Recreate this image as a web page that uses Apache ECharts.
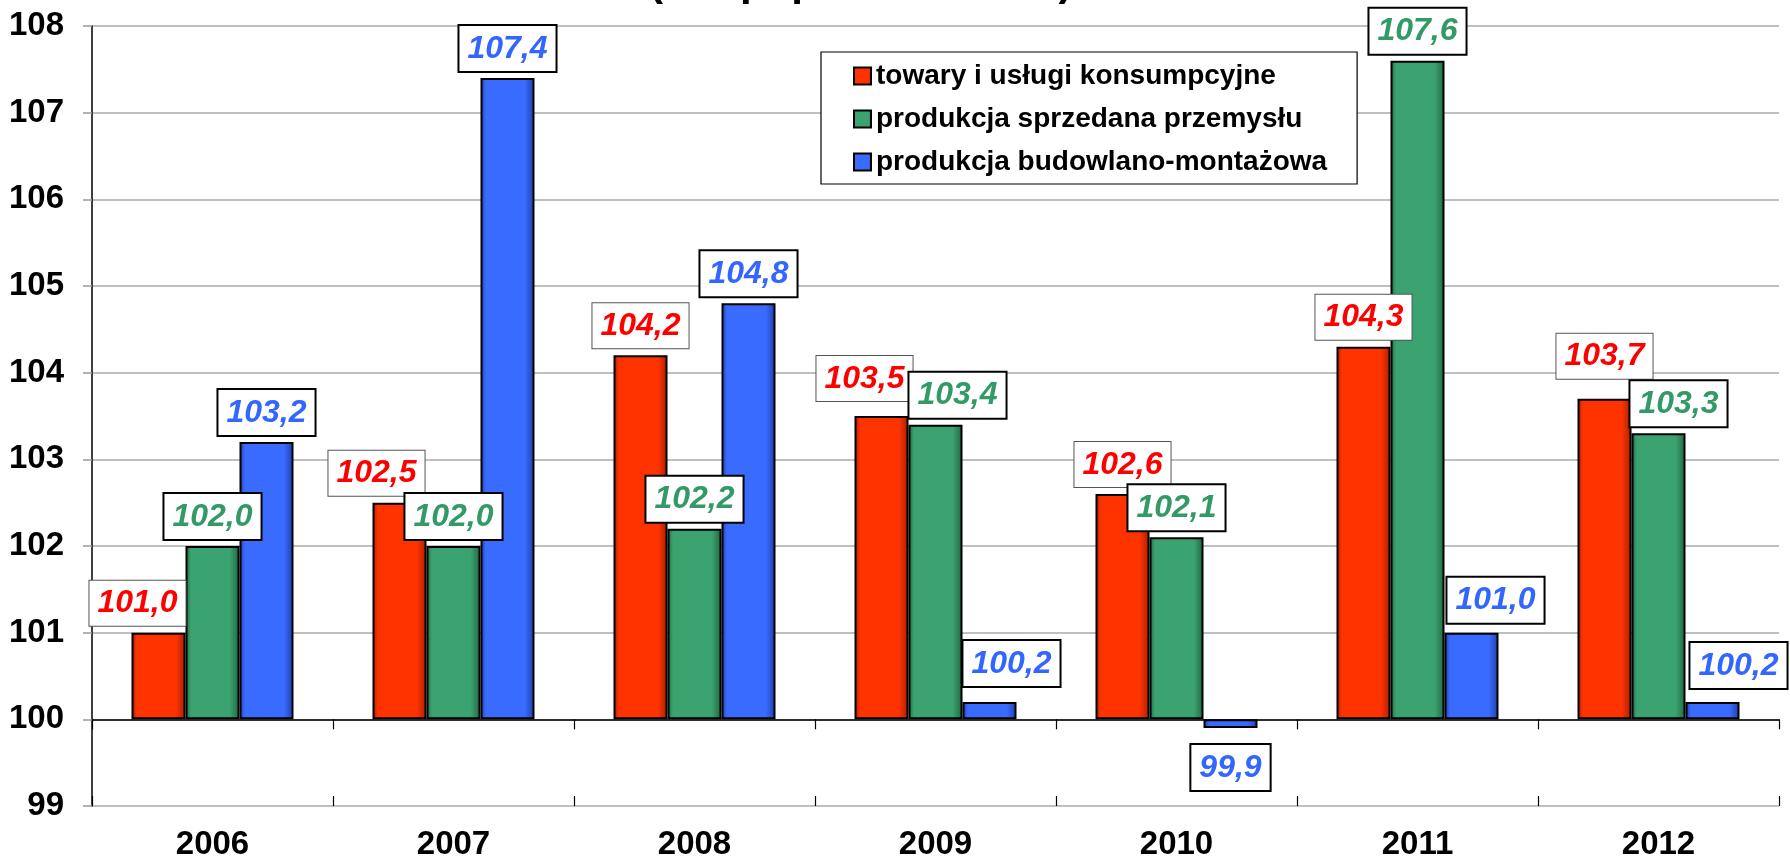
<!DOCTYPE html>
<html>
<head>
<meta charset="utf-8">
<script src="https://cdn.jsdelivr.net/npm/echarts@6/dist/echarts.min.js"></script>
<style>
  html, body { margin: 0; padding: 0; background: #fff; }
  #chart { width: 1790px; height: 861px; }
</style>
</head>
<body>
<div id="chart"></div>
<script>
  const years = ['2006', '2007', '2008', '2009', '2010', '2011', '2012'];
  const seriesNames = [
    'towary i usługi konsumpcyjne',
    'produkcja sprzedana przemysłu',
    'produkcja budowlano-montażowa'
  ];
  const consumer = [101.0, 102.5, 104.2, 103.5, 102.6, 104.3, 103.7];
  const industry = [102.0, 102.0, 102.2, 103.4, 102.1, 107.6, 103.3];
  const construction = [103.2, 107.4, 104.8, 100.2, 99.9, 101.0, 100.2];
  const baseLevel = 100;
  const yMin = 99;
  const yMax = 108;

  // hand placed label boxes in the original, [dx, dy]
  const labelNudge = [
    [[-21, 0], [-23, 0], [0, 0], [-17, -8], [0, 0], [0, 0], [0, -13]],
    [[0, 0], [0, 0], [0, 0], [22, 0], [0, 0], [0, 0], [20, 0]],
    [[0, 0], [0, 0], [0, 0], [22, -9], [0, 10], [24, -3], [26, -7]]
  ];

  const FONT = '"Liberation Sans", Arial, sans-serif';
  const NARROW = '"Liberation Sans Narrow", "Arial Narrow", "Liberation Sans", sans-serif';
  const barColors = [
    { base: '#ff3300', dark: '#a82000' },
    { base: '#3aa36f', dark: '#1f6640' },
    { base: '#3a6bff', dark: '#1e3fa8' }
  ];
  const textColors = ['#ff0000', '#339966', '#3366ff'];

  const fmt = v => v.toFixed(1).replace('.', ',');

  function bevel(c) {
    return new echarts.graphic.LinearGradient(0, 0, 1, 0, [
      { offset: 0, color: c.dark },
      { offset: 0.1, color: c.base },
      { offset: 0.82, color: c.base },
      { offset: 1, color: c.dark }
    ]);
  }

  function makeSeries(idx, values) {
    return {
      name: seriesNames[idx],
      type: 'bar',
      barWidth: 54,
      barGap: '0%',
      itemStyle: {
        color: bevel(barColors[idx]),
        borderColor: '#000',
        borderWidth: 2
      },
      label: {
        show: true,
        position: 'top',
        distance: 7,
        formatter: p => fmt(values[p.dataIndex]),
        fontFamily: FONT,
        fontSize: 32,
        fontWeight: 'bold',
        fontStyle: 'italic',
        color: textColors[idx],
        lineHeight: 32,
        backgroundColor: '#fff',
        borderColor: idx === 0 ? '#555' : '#000',
        borderWidth: idx === 0 ? 1 : 2,
        padding: [7, 8, 6, 8]
      },
      data: values.map((v, i) => {
        const d = { value: +(v - baseLevel).toFixed(1) };
        const lbl = { offset: labelNudge[idx][i] };
        if (v < baseLevel) lbl.position = 'bottom';
        d.label = lbl;
        return d;
      })
    };
  }

  const chart = echarts.init(document.getElementById('chart'));

  const catAxis = {
    type: 'category',
    data: years,
    position: 'bottom',
    boundaryGap: true
  };

  chart.setOption({
    animation: false,
    backgroundColor: '#fff',
    textStyle: { fontFamily: FONT },
    graphic: [{
      type: 'text',
      left: 649,
      top: -38,
      style: {
        text: '(rok poprzedni = 100)',
        font: 'bold 42px ' + FONT,
        fill: '#000'
      }
    }],
    legend: {
      orient: 'vertical',
      left: 821,
      top: 52,
      padding: [10, 30, 8, 32],
      itemGap: 15,
      itemWidth: 17,
      itemHeight: 17,
      icon: 'rect',
      backgroundColor: '#fff',
      borderColor: '#000',
      borderWidth: 1.2,
      textStyle: { fontFamily: FONT, fontSize: 28, lineHeight: 28, fontWeight: 'bold', color: '#000' },
      data: seriesNames
    },
    grid: { left: 92, right: 11, top: 26, bottom: 55, containLabel: false },
    xAxis: [
      Object.assign({}, catAxis, {
        axisLine: { show: false, onZero: false },
        axisTick: { show: false },
        axisLabel: { margin: 22, fontFamily: NARROW, fontSize: 33, fontWeight: 'bold', color: '#000' }
      }),
      Object.assign({}, catAxis, {
        axisLine: { show: true, onZero: true, lineStyle: { color: '#000', width: 1.5 } },
        axisTick: { show: true, length: 10, lineStyle: { color: '#000', width: 1.2 } },
        axisLabel: { show: false }
      }),
      Object.assign({}, catAxis, {
        axisLine: { show: false, onZero: true },
        axisTick: { show: true, inside: true, length: 10, lineStyle: { color: '#000', width: 1.2 } },
        axisLabel: { show: false }
      })
    ],
    yAxis: {
      type: 'value',
      min: yMin - baseLevel,
      max: yMax - baseLevel,
      interval: 1,
      axisLine: { show: true, lineStyle: { color: '#000', width: 1.5 } },
      axisTick: { show: true, length: 9, lineStyle: { color: '#999', width: 1.5 } },
      splitLine: { show: true, lineStyle: { color: '#aaa', width: 1.5 } },
      axisLabel: {
        margin: 28,
        formatter: v => String(v + baseLevel),
        fontFamily: NARROW,
        fontSize: 33,
        fontWeight: 'bold',
        color: '#000'
      }
    },
    series: [
      makeSeries(0, consumer),
      makeSeries(1, industry),
      makeSeries(2, construction)
    ]
  });
</script>
</body>
</html>
